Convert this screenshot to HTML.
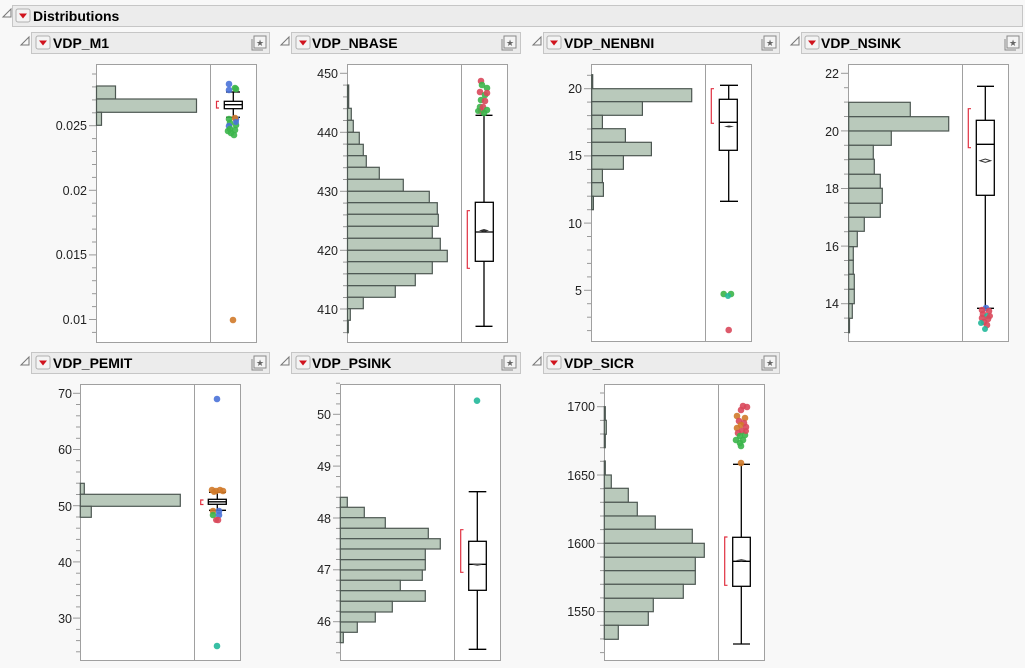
<!DOCTYPE html>
<html><head><meta charset="utf-8"><style>
html,body{margin:0;padding:0;background:#f8f8f8;}
svg{display:block;font-family:"Liberation Sans",Arial,sans-serif;}
.hb{fill:#ececec;stroke:#c6c6c6;stroke-width:1}
.tt{font-weight:bold;font-size:14px;fill:#000}
.fr{fill:#fff;stroke:#a0a0a0;stroke-width:1}
.dv{stroke:#a0a0a0;stroke-width:1}
.bar{fill:#b9c9bb;stroke:#4d5752;stroke-width:1.2}
.tk{stroke:#999;stroke-width:1}
.lb{font-size:12.5px;fill:#222;text-anchor:end}
.bx{fill:#fff;stroke:#000;stroke-width:1.3}
.wh{stroke:#000;stroke-width:1.3}
.br{fill:none;stroke:#e03040;stroke-width:1.2}
.b{fill:#4a72d8;opacity:.9}.g{fill:#3bb54a;opacity:.9}.r{fill:#d9485b;opacity:.9}.o{fill:#d07a2a;opacity:.9}.t{fill:#22b89a;opacity:.9}
</style></head><body>
<svg width="1025" height="668" viewBox="0 0 1025 668">
<defs>
<g id="dd"><rect x="0" y="0" width="14" height="13" rx="2" fill="#f4f4f4" stroke="#b0b0b0"/><path d="M3,4.5 L11,4.5 L7,9.5Z" fill="#d0141e"/></g>
<g id="tri"><path d="M0,9 L8,1 L8,9Z" fill="none" stroke="#777" stroke-width="1"/></g>
<g id="ic"><rect x="2" y="0" width="12" height="12" fill="#f4f4f4" stroke="#888"/><path d="M0,3 L0,14 L11,14" fill="none" stroke="#888"/><text x="8" y="10" font-size="9" text-anchor="middle" fill="#666">★</text></g>
</defs>
<!-- top header -->
<rect class="hb" x="12.5" y="5.5" width="1010" height="21"/>
<use href="#tri" x="3" y="8"/><use href="#dd" x="16" y="9"/>
<text class="tt" x="33" y="21">Distributions</text>

<!-- panel headers row1 -->
<g>
<rect class="hb" x="31.5" y="32.5" width="238" height="21"/><use href="#tri" x="21" y="36"/><use href="#dd" x="36" y="36"/><text class="tt" x="53" y="48">VDP_M1</text><use href="#ic" x="252" y="36"/>
<rect class="hb" x="291.5" y="32.5" width="229" height="21"/><use href="#tri" x="281" y="36"/><use href="#dd" x="296" y="36"/><text class="tt" x="312" y="48">VDP_NBASE</text><use href="#ic" x="502" y="36"/>
<rect class="hb" x="543.5" y="32.5" width="236" height="21"/><use href="#tri" x="533" y="36"/><use href="#dd" x="547" y="36"/><text class="tt" x="564" y="48">VDP_NENBNI</text><use href="#ic" x="762" y="36"/>
<rect class="hb" x="801.5" y="32.5" width="221" height="21"/><use href="#tri" x="791" y="36"/><use href="#dd" x="805" y="36"/><text class="tt" x="821" y="48">VDP_NSINK</text><use href="#ic" x="1005" y="36"/>
<rect class="hb" x="31.5" y="352.5" width="238" height="21"/><use href="#tri" x="21" y="356"/><use href="#dd" x="36" y="356"/><text class="tt" x="53" y="368">VDP_PEMIT</text><use href="#ic" x="252" y="356"/>
<rect class="hb" x="291.5" y="352.5" width="229" height="21"/><use href="#tri" x="281" y="356"/><use href="#dd" x="296" y="356"/><text class="tt" x="312" y="368">VDP_PSINK</text><use href="#ic" x="502" y="356"/>
<rect class="hb" x="543.5" y="352.5" width="236" height="21"/><use href="#tri" x="533" y="356"/><use href="#dd" x="547" y="356"/><text class="tt" x="564" y="368">VDP_SICR</text><use href="#ic" x="762" y="356"/>
</g>

<!-- ===== M1 ===== -->
<rect class="fr" x="96.5" y="64.5" width="160" height="278"/><line class="dv" x1="210.5" y1="64" x2="210.5" y2="342"/>
<g class="tk">
<line x1="92" x2="96" y1="74" y2="74"/><line x1="92" x2="96" y1="86.9" y2="86.9"/><line x1="92" x2="96" y1="99.9" y2="99.9"/><line x1="92" x2="96" y1="112.8" y2="112.8"/><line x1="89" x2="96" y1="125.7" y2="125.7"/>
<line x1="92" x2="96" y1="138.6" y2="138.6"/><line x1="92" x2="96" y1="151.5" y2="151.5"/><line x1="92" x2="96" y1="164.5" y2="164.5"/><line x1="92" x2="96" y1="177.4" y2="177.4"/><line x1="89" x2="96" y1="190.3" y2="190.3"/>
<line x1="92" x2="96" y1="203.2" y2="203.2"/><line x1="92" x2="96" y1="216.1" y2="216.1"/><line x1="92" x2="96" y1="229.1" y2="229.1"/><line x1="92" x2="96" y1="242" y2="242"/><line x1="89" x2="96" y1="254.9" y2="254.9"/>
<line x1="92" x2="96" y1="267.8" y2="267.8"/><line x1="92" x2="96" y1="280.7" y2="280.7"/><line x1="92" x2="96" y1="293.7" y2="293.7"/><line x1="92" x2="96" y1="306.6" y2="306.6"/><line x1="89" x2="96" y1="319.5" y2="319.5"/><line x1="92" x2="96" y1="332.4" y2="332.4"/>
</g>
<text class="lb" x="87" y="130">0.025</text><text class="lb" x="87" y="195">0.02</text><text class="lb" x="87" y="259">0.015</text><text class="lb" x="87" y="324">0.01</text>
<rect class="bar" x="96.5" y="86" width="19" height="13"/><rect class="bar" x="96.5" y="99" width="100" height="13.3"/><rect class="bar" x="96.5" y="112.3" width="5" height="13"/>
<line class="wh" x1="233.3" y1="92" x2="233.3" y2="117.3"/><line class="wh" x1="226" y1="92" x2="240" y2="92"/><line class="wh" x1="226" y1="117.3" x2="240" y2="117.3"/>
<rect class="bx" x="224.3" y="101.3" width="18" height="7.4"/><line class="wh" x1="224.3" y1="104.7" x2="242.3" y2="104.7"/>
<path class="br" d="M219,101.3 H216.5 V108 H219"/>
<g><circle class="b" cx="229" cy="84" r="3.3"/><circle class="g" cx="235" cy="88" r="3.3"/><circle class="b" cx="229" cy="90" r="3.3"/><circle class="g" cx="236" cy="89" r="3.3"/>
<circle class="g" cx="229" cy="119" r="3.3"/><circle class="b" cx="236" cy="119" r="3.3"/><circle class="o" cx="235" cy="118" r="3.3"/><circle class="g" cx="230" cy="123" r="3.3"/><circle class="b" cx="229" cy="126" r="3.3"/><circle class="g" cx="236" cy="125" r="3.3"/><circle class="g" cx="230" cy="129" r="3.3"/><circle class="g" cx="235" cy="130" r="3.3"/><circle class="g" cx="231" cy="133" r="3.3"/><circle class="g" cx="234" cy="135" r="3.3"/><circle class="g" cx="228" cy="131" r="3.3"/><circle class="b" cx="236" cy="122" r="3"/>
<circle class="o" cx="233" cy="320" r="3.3"/></g>

<!-- ===== NBASE ===== -->
<rect class="fr" x="347.5" y="64.5" width="160" height="278"/><line class="dv" x1="461.5" y1="64" x2="461.5" y2="342"/>
<g class="tk">
<line x1="340" x2="347" y1="73.3" y2="73.3"/><line x1="343" x2="347" y1="85.1" y2="85.1"/><line x1="343" x2="347" y1="96.9" y2="96.9"/><line x1="343" x2="347" y1="108.7" y2="108.7"/><line x1="343" x2="347" y1="120.5" y2="120.5"/><line x1="340" x2="347" y1="132.3" y2="132.3"/>
<line x1="343" x2="347" y1="144.1" y2="144.1"/><line x1="343" x2="347" y1="155.9" y2="155.9"/><line x1="343" x2="347" y1="167.7" y2="167.7"/><line x1="343" x2="347" y1="179.5" y2="179.5"/><line x1="340" x2="347" y1="191.3" y2="191.3"/>
<line x1="343" x2="347" y1="203.1" y2="203.1"/><line x1="343" x2="347" y1="214.9" y2="214.9"/><line x1="343" x2="347" y1="226.7" y2="226.7"/><line x1="343" x2="347" y1="238.5" y2="238.5"/><line x1="340" x2="347" y1="250.3" y2="250.3"/>
<line x1="343" x2="347" y1="262.1" y2="262.1"/><line x1="343" x2="347" y1="273.9" y2="273.9"/><line x1="343" x2="347" y1="285.7" y2="285.7"/><line x1="343" x2="347" y1="297.5" y2="297.5"/><line x1="340" x2="347" y1="309" y2="309"/><line x1="343" x2="347" y1="320.8" y2="320.8"/><line x1="343" x2="347" y1="332.6" y2="332.6"/>
</g>
<text class="lb" x="338" y="78">450</text><text class="lb" x="338" y="137">440</text><text class="lb" x="338" y="196">430</text><text class="lb" x="338" y="255">420</text><text class="lb" x="338" y="314">410</text>
<g class="bar">
<rect x="347.5" y="85" width="1.2" height="23.3"/><rect x="347.5" y="108.3" width="3.8" height="12"/><rect x="347.5" y="120.3" width="5.8" height="12"/><rect x="347.5" y="132.3" width="11.8" height="12"/><rect x="347.5" y="144.3" width="15.8" height="11.4"/><rect x="347.5" y="155.7" width="18.8" height="11.6"/><rect x="347.5" y="167.3" width="31.8" height="12"/><rect x="347.5" y="179.3" width="55.8" height="12"/><rect x="347.5" y="191.3" width="81.8" height="11.4"/><rect x="347.5" y="202.7" width="89.8" height="11.6"/><rect x="347.5" y="214.3" width="90.8" height="12"/><rect x="347.5" y="226.3" width="84.8" height="12"/><rect x="347.5" y="238.3" width="92.8" height="12"/><rect x="347.5" y="250.3" width="99.8" height="11.4"/><rect x="347.5" y="261.7" width="84.8" height="12"/><rect x="347.5" y="273.7" width="67.8" height="12"/><rect x="347.5" y="285.7" width="47.8" height="11.6"/><rect x="347.5" y="297.3" width="15.8" height="11.4"/><rect x="347.5" y="308.7" width="2.8" height="11.6"/><rect x="347.5" y="320.3" width="0.8" height="12.4"/>
</g>
<line class="wh" x1="484" y1="115.3" x2="484" y2="326.3"/><line class="wh" x1="475.5" y1="115.3" x2="492.5" y2="115.3"/><line class="wh" x1="475.5" y1="326.3" x2="492.5" y2="326.3"/>
<rect class="bx" x="475.3" y="202.3" width="18" height="59"/><line class="wh" x1="475.3" y1="232" x2="493.3" y2="232"/><path d="M479,230.5 L484,229 L489,230.5 L484,232Z" fill="#333"/>
<path class="br" d="M470,210.7 H467.3 V268.3 H470"/>
<g><circle class="r" cx="481" cy="81" r="3.3"/><circle class="g" cx="482" cy="85" r="3.3"/><circle class="g" cx="487" cy="88" r="3.3"/><circle class="r" cx="480" cy="92" r="3.3"/><circle class="g" cx="485" cy="95" r="3.3"/><circle class="r" cx="487" cy="93" r="3.3"/><circle class="g" cx="481" cy="100" r="3.3"/><circle class="r" cx="485" cy="101" r="3.3"/><circle class="g" cx="480" cy="107" r="3.3"/><circle class="r" cx="483" cy="107" r="3.3"/><circle class="g" cx="487" cy="110" r="3.3"/><circle class="r" cx="481" cy="111" r="3.3"/><circle class="g" cx="484" cy="113" r="3.3"/><circle class="g" cx="478" cy="111" r="3"/></g>

<!-- ===== NENBNI ===== -->
<rect class="fr" x="591.5" y="64.5" width="160" height="277"/><line class="dv" x1="705.5" y1="64" x2="705.5" y2="341"/>
<g class="tk">
<line x1="587" x2="591" y1="75.3" y2="75.3"/><line x1="584" x2="591" y1="88.7" y2="88.7"/><line x1="587" x2="591" y1="102.1" y2="102.1"/><line x1="587" x2="591" y1="115.6" y2="115.6"/><line x1="587" x2="591" y1="129" y2="129"/><line x1="587" x2="591" y1="142.5" y2="142.5"/><line x1="584" x2="591" y1="155.9" y2="155.9"/>
<line x1="587" x2="591" y1="169.4" y2="169.4"/><line x1="587" x2="591" y1="182.8" y2="182.8"/><line x1="587" x2="591" y1="196.2" y2="196.2"/><line x1="587" x2="591" y1="209.7" y2="209.7"/><line x1="584" x2="591" y1="223.1" y2="223.1"/>
<line x1="587" x2="591" y1="236.5" y2="236.5"/><line x1="587" x2="591" y1="250" y2="250"/><line x1="587" x2="591" y1="263.4" y2="263.4"/><line x1="587" x2="591" y1="276.9" y2="276.9"/><line x1="584" x2="591" y1="290.3" y2="290.3"/><line x1="587" x2="591" y1="303.7" y2="303.7"/><line x1="587" x2="591" y1="317.2" y2="317.2"/><line x1="587" x2="591" y1="330.6" y2="330.6"/>
</g>
<text class="lb" x="582" y="93">20</text><text class="lb" x="582" y="160">15</text><text class="lb" x="582" y="228">10</text><text class="lb" x="582" y="295">5</text>
<g class="bar">
<rect x="591.7" y="74.7" width="1" height="14"/><rect x="591.7" y="88.7" width="100" height="13"/><rect x="591.7" y="101.7" width="50.7" height="13.6"/><rect x="591.7" y="115.3" width="10.7" height="13.4"/><rect x="591.7" y="128.7" width="33.7" height="13.6"/><rect x="591.7" y="142.3" width="59.7" height="13.4"/><rect x="591.7" y="155.7" width="31.7" height="13.6"/><rect x="591.7" y="169.3" width="10.7" height="13.4"/><rect x="591.7" y="182.7" width="11.7" height="13.6"/><rect x="591.7" y="196.3" width="1.7" height="13.4"/>
</g>
<line class="wh" x1="728.7" y1="85.3" x2="728.7" y2="201.3"/><line class="wh" x1="720" y1="85.3" x2="738" y2="85.3"/><line class="wh" x1="720" y1="201.3" x2="738" y2="201.3"/>
<rect class="bx" x="719.3" y="99.3" width="18" height="51"/><line class="wh" x1="719.3" y1="122.3" x2="737.3" y2="122.3"/><path d="M724,126.5 L729,125.5 L734,126.5 L729,127.5Z" fill="#333"/>
<path class="br" d="M714,88.7 H711.3 V123.3 H714"/>
<circle class="g" cx="723.7" cy="294" r="3.3"/><circle class="g" cx="731" cy="294" r="3.3"/><circle class="t" cx="728" cy="296" r="3"/><circle class="r" cx="728.7" cy="330" r="3.3"/>

<!-- ===== NSINK ===== -->
<rect class="fr" x="848.5" y="64.5" width="160" height="277"/><line class="dv" x1="962.5" y1="64" x2="962.5" y2="341"/>
<g class="tk">
<line x1="841" x2="848" y1="73.3" y2="73.3"/><line x1="844" x2="848" y1="87.7" y2="87.7"/><line x1="844" x2="848" y1="102.1" y2="102.1"/><line x1="844" x2="848" y1="116.5" y2="116.5"/><line x1="841" x2="848" y1="130.9" y2="130.9"/><line x1="844" x2="848" y1="145.3" y2="145.3"/><line x1="844" x2="848" y1="159.7" y2="159.7"/><line x1="844" x2="848" y1="174.1" y2="174.1"/><line x1="841" x2="848" y1="188.5" y2="188.5"/>
<line x1="844" x2="848" y1="202.9" y2="202.9"/><line x1="844" x2="848" y1="217.3" y2="217.3"/><line x1="844" x2="848" y1="231.7" y2="231.7"/><line x1="841" x2="848" y1="246.1" y2="246.1"/><line x1="844" x2="848" y1="260.5" y2="260.5"/><line x1="844" x2="848" y1="274.9" y2="274.9"/><line x1="844" x2="848" y1="289.3" y2="289.3"/><line x1="841" x2="848" y1="303.7" y2="303.7"/><line x1="844" x2="848" y1="318.1" y2="318.1"/><line x1="844" x2="848" y1="332.5" y2="332.5"/>
</g>
<text class="lb" x="839" y="78">22</text><text class="lb" x="839" y="136">20</text><text class="lb" x="839" y="193">18</text><text class="lb" x="839" y="251">16</text><text class="lb" x="839" y="308">14</text>
<g class="bar">
<rect x="848.7" y="102.3" width="61.6" height="14.4"/><rect x="848.7" y="116.7" width="100" height="14.3"/><rect x="848.7" y="131" width="42.6" height="14.3"/><rect x="848.7" y="145.3" width="24.6" height="14"/><rect x="848.7" y="159.3" width="25.6" height="15"/><rect x="848.7" y="174.3" width="31.6" height="14"/><rect x="848.7" y="188.3" width="33.6" height="15"/><rect x="848.7" y="203.3" width="31.6" height="14"/><rect x="848.7" y="217.3" width="15.6" height="14"/><rect x="848.7" y="231.3" width="8.6" height="15.4"/><rect x="848.7" y="246.7" width="4.6" height="13.6"/><rect x="848.7" y="260.3" width="4.6" height="14"/><rect x="848.7" y="274.3" width="5.6" height="15"/><rect x="848.7" y="289.3" width="5.6" height="14.4"/><rect x="848.7" y="303.7" width="3.6" height="14.6"/><rect x="848.7" y="318.3" width="0.8" height="14.4"/>
</g>
<line class="wh" x1="985.3" y1="86.3" x2="985.3" y2="308.3"/><line class="wh" x1="977" y1="86.3" x2="994" y2="86.3"/><line class="wh" x1="977" y1="308.3" x2="994" y2="308.3"/>
<rect class="bx" x="976.3" y="120.3" width="18" height="75"/><line class="wh" x1="976.3" y1="144.3" x2="994.3" y2="144.3"/><path d="M980,160.7 L985.3,159 L990.6,160.7 L985.3,162.4Z" fill="none" stroke="#333"/>
<path class="br" d="M971,108.7 H968.3 V147.7 H971"/>
<g><circle class="b" cx="986" cy="308" r="3.3"/><circle class="r" cx="982" cy="310" r="3.3"/><circle class="r" cx="989" cy="311" r="3.3"/><circle class="r" cx="983" cy="314" r="3.3"/><circle class="t" cx="987" cy="316" r="3"/><circle class="r" cx="982" cy="318" r="3.3"/><circle class="r" cx="988" cy="319" r="3.3"/><circle class="r" cx="984" cy="322" r="3.3"/><circle class="t" cx="981" cy="323" r="3"/><circle class="r" cx="987" cy="325" r="3.3"/><circle class="t" cx="985" cy="329" r="3"/><circle class="r" cx="990" cy="316" r="3"/></g>

<!-- ===== PEMIT ===== -->
<rect class="fr" x="80.5" y="384.5" width="160" height="276"/><line class="dv" x1="194.5" y1="384" x2="194.5" y2="660"/>
<g class="tk">
<line x1="73" x2="80" y1="393.3" y2="393.3"/><line x1="76" x2="80" y1="404.5" y2="404.5"/><line x1="76" x2="80" y1="415.8" y2="415.8"/><line x1="76" x2="80" y1="427" y2="427"/><line x1="76" x2="80" y1="438.3" y2="438.3"/><line x1="73" x2="80" y1="449.5" y2="449.5"/>
<line x1="76" x2="80" y1="460.7" y2="460.7"/><line x1="76" x2="80" y1="472" y2="472"/><line x1="76" x2="80" y1="483.2" y2="483.2"/><line x1="76" x2="80" y1="494.5" y2="494.5"/><line x1="73" x2="80" y1="505.7" y2="505.7"/>
<line x1="76" x2="80" y1="517" y2="517"/><line x1="76" x2="80" y1="528.2" y2="528.2"/><line x1="76" x2="80" y1="539.4" y2="539.4"/><line x1="76" x2="80" y1="550.7" y2="550.7"/><line x1="73" x2="80" y1="561.9" y2="561.9"/>
<line x1="76" x2="80" y1="573.2" y2="573.2"/><line x1="76" x2="80" y1="584.4" y2="584.4"/><line x1="76" x2="80" y1="595.6" y2="595.6"/><line x1="76" x2="80" y1="606.9" y2="606.9"/><line x1="73" x2="80" y1="618.1" y2="618.1"/><line x1="76" x2="80" y1="629.4" y2="629.4"/><line x1="76" x2="80" y1="640.6" y2="640.6"/><line x1="76" x2="80" y1="651.8" y2="651.8"/>
</g>
<text class="lb" x="72" y="398">70</text><text class="lb" x="72" y="454">60</text><text class="lb" x="72" y="511">50</text><text class="lb" x="72" y="567">40</text><text class="lb" x="72" y="623">30</text>
<g class="bar"><rect x="80.3" y="483.3" width="4" height="11"/><rect x="80.3" y="494.3" width="100" height="12"/><rect x="80.3" y="506.3" width="11" height="11"/></g>
<line class="wh" x1="217.3" y1="492.3" x2="217.3" y2="510.3"/><line class="wh" x1="209" y1="492.3" x2="226" y2="492.3"/><line class="wh" x1="209" y1="510.3" x2="226" y2="510.3"/>
<rect class="bx" x="208.3" y="499.3" width="18" height="5"/><line class="wh" x1="208.3" y1="501.8" x2="226.3" y2="501.8"/>
<path class="br" d="M203.5,500 H200.7 V504.5 H203.5"/>
<g><circle class="b" cx="217" cy="399" r="3.3"/><circle class="o" cx="212" cy="490" r="3.3"/><circle class="o" cx="216" cy="491" r="3.3"/><circle class="o" cx="220" cy="490" r="3.3"/><circle class="o" cx="223" cy="491" r="3.3"/><circle class="o" cx="214" cy="492" r="3"/>
<circle class="o" cx="213" cy="511" r="3.3"/><circle class="b" cx="219" cy="511" r="3.3"/><circle class="g" cx="213" cy="515" r="3.3"/><circle class="b" cx="219" cy="515" r="3.3"/><circle class="r" cx="218" cy="520" r="3.3"/><circle class="r" cx="216" cy="520" r="3"/>
<circle class="t" cx="217" cy="646" r="3.3"/></g>

<!-- ===== PSINK ===== -->
<rect class="fr" x="340.5" y="384.5" width="160" height="276"/><line class="dv" x1="454.5" y1="384" x2="454.5" y2="660"/>
<g class="tk">
<line x1="336" x2="340" y1="383.2" y2="383.2"/><line x1="336" x2="340" y1="393.6" y2="393.6"/><line x1="336" x2="340" y1="403.9" y2="403.9"/><line x1="333" x2="340" y1="414.3" y2="414.3"/><line x1="336" x2="340" y1="424.7" y2="424.7"/><line x1="336" x2="340" y1="435" y2="435"/><line x1="336" x2="340" y1="445.4" y2="445.4"/><line x1="336" x2="340" y1="455.8" y2="455.8"/><line x1="333" x2="340" y1="466.1" y2="466.1"/>
<line x1="336" x2="340" y1="476.5" y2="476.5"/><line x1="336" x2="340" y1="486.9" y2="486.9"/><line x1="336" x2="340" y1="497.3" y2="497.3"/><line x1="336" x2="340" y1="507.6" y2="507.6"/><line x1="333" x2="340" y1="518" y2="518"/>
<line x1="336" x2="340" y1="528.4" y2="528.4"/><line x1="336" x2="340" y1="538.7" y2="538.7"/><line x1="336" x2="340" y1="549.1" y2="549.1"/><line x1="336" x2="340" y1="559.5" y2="559.5"/><line x1="333" x2="340" y1="569.8" y2="569.8"/>
<line x1="336" x2="340" y1="580.2" y2="580.2"/><line x1="336" x2="340" y1="590.6" y2="590.6"/><line x1="336" x2="340" y1="600.9" y2="600.9"/><line x1="336" x2="340" y1="611.3" y2="611.3"/><line x1="333" x2="340" y1="621.7" y2="621.7"/><line x1="336" x2="340" y1="632" y2="632"/><line x1="336" x2="340" y1="642.4" y2="642.4"/><line x1="336" x2="340" y1="652.8" y2="652.8"/>
</g>
<text class="lb" x="331" y="419">50</text><text class="lb" x="331" y="471">49</text><text class="lb" x="331" y="523">48</text><text class="lb" x="331" y="574">47</text><text class="lb" x="331" y="626">46</text>
<g class="bar">
<rect x="340.3" y="497.3" width="7" height="10"/><rect x="340.3" y="507.3" width="24" height="10.4"/><rect x="340.3" y="517.7" width="45" height="10.6"/><rect x="340.3" y="528.3" width="88" height="10.4"/><rect x="340.3" y="538.7" width="100" height="10.3"/><rect x="340.3" y="549" width="85" height="10.7"/><rect x="340.3" y="559.7" width="85" height="10.3"/><rect x="340.3" y="570" width="82" height="10.3"/><rect x="340.3" y="580.3" width="60" height="10.4"/><rect x="340.3" y="590.7" width="85" height="10.6"/><rect x="340.3" y="601.3" width="52" height="10.7"/><rect x="340.3" y="612" width="35" height="10"/><rect x="340.3" y="622" width="17" height="10.3"/><rect x="340.3" y="632.3" width="3" height="10.4"/>
</g>
<line class="wh" x1="477.3" y1="491.7" x2="477.3" y2="649.3"/><line class="wh" x1="468.7" y1="491.7" x2="486.3" y2="491.7"/><line class="wh" x1="468.7" y1="649.3" x2="486.3" y2="649.3"/>
<rect class="bx" x="468.7" y="541.3" width="17.6" height="49"/><line class="wh" x1="468.7" y1="564.3" x2="486.3" y2="564.3"/><path d="M472,564.7 L477.3,563.5 L482.6,564.7 L477.3,565.9Z" fill="#555"/>
<path class="br" d="M463.5,529.7 H460.7 V572.3 H463.5"/>
<circle class="t" cx="477" cy="400.7" r="3.3"/>

<!-- ===== SICR ===== -->
<rect class="fr" x="604.5" y="384.5" width="160" height="276"/><line class="dv" x1="718.5" y1="384" x2="718.5" y2="660"/>
<g class="tk">
<line x1="600" x2="604" y1="393" y2="393"/><line x1="597" x2="604" y1="406.7" y2="406.7"/><line x1="600" x2="604" y1="420.4" y2="420.4"/><line x1="600" x2="604" y1="434" y2="434"/><line x1="600" x2="604" y1="447.7" y2="447.7"/><line x1="600" x2="604" y1="461.3" y2="461.3"/><line x1="597" x2="604" y1="475" y2="475"/>
<line x1="600" x2="604" y1="488.7" y2="488.7"/><line x1="600" x2="604" y1="502.3" y2="502.3"/><line x1="600" x2="604" y1="516" y2="516"/><line x1="600" x2="604" y1="529.6" y2="529.6"/><line x1="597" x2="604" y1="543.3" y2="543.3"/>
<line x1="600" x2="604" y1="557" y2="557"/><line x1="600" x2="604" y1="570.6" y2="570.6"/><line x1="600" x2="604" y1="584.3" y2="584.3"/><line x1="600" x2="604" y1="597.9" y2="597.9"/><line x1="597" x2="604" y1="611.6" y2="611.6"/><line x1="600" x2="604" y1="625.3" y2="625.3"/><line x1="600" x2="604" y1="638.9" y2="638.9"/><line x1="600" x2="604" y1="652.6" y2="652.6"/>
</g>
<text class="lb" x="595" y="411">1700</text><text class="lb" x="595" y="480">1650</text><text class="lb" x="595" y="548">1600</text><text class="lb" x="595" y="616">1550</text>
<g class="bar">
<rect x="604.3" y="406.7" width="1" height="13.6"/><rect x="604.3" y="420.3" width="2" height="14"/><rect x="604.3" y="434.3" width="1" height="13.4"/><rect x="604.3" y="461" width="1" height="14"/><rect x="604.3" y="475" width="7" height="13.3"/><rect x="604.3" y="488.3" width="24" height="14"/><rect x="604.3" y="502.3" width="33" height="13.7"/><rect x="604.3" y="516" width="51" height="13.3"/><rect x="604.3" y="529.3" width="88" height="14"/><rect x="604.3" y="543.3" width="100" height="14"/><rect x="604.3" y="557.3" width="91" height="13.4"/><rect x="604.3" y="570.7" width="91" height="13.6"/><rect x="604.3" y="584.3" width="79" height="14"/><rect x="604.3" y="598.3" width="49" height="13.4"/><rect x="604.3" y="611.7" width="44" height="13.6"/><rect x="604.3" y="625.3" width="14" height="14"/>
</g>
<line class="wh" x1="741.3" y1="464.3" x2="741.3" y2="644"/><line class="wh" x1="733" y1="464.3" x2="750" y2="464.3"/><line class="wh" x1="733" y1="644" x2="750" y2="644"/>
<rect class="bx" x="732.7" y="537.3" width="17.6" height="49"/><line class="wh" x1="732.7" y1="561.3" x2="750.3" y2="561.3"/><path d="M736,560.3 L741.3,559 L746.6,560.3 L741.3,561.6Z" fill="#555"/>
<path class="br" d="M727.5,537 H724.7 V585.3 H727.5"/>
<g><circle class="o" cx="741" cy="463" r="3.3"/>
<circle class="r" cx="743" cy="406" r="3.3"/><circle class="r" cx="747" cy="407" r="3.3"/><circle class="r" cx="741" cy="410" r="3.3"/><circle class="o" cx="737" cy="416" r="3.3"/><circle class="o" cx="745" cy="418" r="3.3"/><circle class="r" cx="739" cy="421" r="3.3"/><circle class="r" cx="744" cy="423" r="3.3"/><circle class="o" cx="741" cy="425" r="3.3"/><circle class="r" cx="746" cy="427" r="3.3"/><circle class="o" cx="737" cy="428" r="3.3"/><circle class="r" cx="742" cy="431" r="3.3"/><circle class="r" cx="738" cy="433" r="3.3"/><circle class="g" cx="745" cy="435" r="3.3"/><circle class="g" cx="740" cy="436" r="3.3"/><circle class="g" cx="736" cy="440" r="3.3"/><circle class="g" cx="743" cy="440" r="3.3"/><circle class="g" cx="740" cy="443" r="3.3"/><circle class="g" cx="741" cy="446" r="3.3"/><circle class="r" cx="746" cy="431" r="3"/></g>
</svg>
</body></html>
